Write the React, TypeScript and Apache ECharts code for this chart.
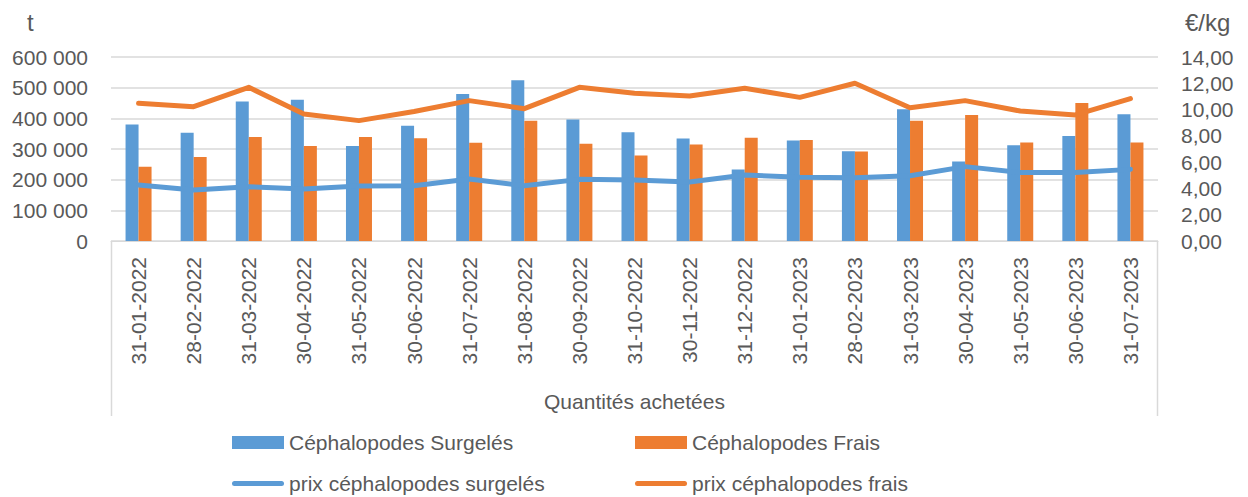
import React, { useEffect, useRef } from "react";
import * as echarts from "echarts";

const categories = [
  "31-01-2022", "28-02-2022", "31-03-2022", "30-04-2022", "31-05-2022", "30-06-2022",
  "31-07-2022", "31-08-2022", "30-09-2022", "31-10-2022", "30-11-2022", "31-12-2022",
  "31-01-2023", "28-02-2023", "31-03-2023", "30-04-2023", "31-05-2023", "30-06-2023",
  "31-07-2023",
];
const surgeles = [380000, 353000, 455000, 461000, 310000, 376000, 479000, 524000, 396000, 355000, 334000, 233000, 328000, 293000, 430000, 259000, 312000, 342000, 413000];
const frais = [242000, 274000, 339000, 310000, 339000, 335000, 320000, 392000, 317000, 279000, 315000, 337000, 329000, 292000, 392000, 411000, 321000, 450000, 321000];
const prixSurgeles = [4.26, 3.88, 4.13, 3.96, 4.19, 4.21, 4.72, 4.21, 4.69, 4.64, 4.49, 5.02, 4.85, 4.82, 4.97, 5.66, 5.22, 5.22, 5.45];
const prixFrais = [10.48, 10.22, 11.69, 9.66, 9.16, 9.85, 10.68, 10.07, 11.69, 11.24, 11.03, 11.62, 10.93, 12.0, 10.14, 10.68, 9.89, 9.59, 10.83];

const BLUE = "#5B9BD5";
const ORANGE = "#ED7D31";
const TEXT = "#595959";
const GRID = "#D9D9D9";
const FONT = "Liberation Sans";
const LINE_ICON = "path://M0,0 M52,13 M2.5,4 L49.5,4 A2.5,2.5 0 0 1 49.5,9 L2.5,9 A2.5,2.5 0 0 1 2.5,4 Z";

export default function App() {
  const ref = useRef<HTMLDivElement>(null);
  useEffect(() => {
    if (!ref.current) return;
    const chart = echarts.init(ref.current, null, { renderer: "svg" });
    const left = 111, right = 1158, top = 57, bottom = 241;
    const legendBase = {
      orient: "vertical",
      top: 432,
      padding: 0,
      itemGap: 20,
      itemWidth: 52,
      itemHeight: 13,
      textStyle: { color: TEXT, fontSize: 21, fontFamily: FONT },
    };
    chart.setOption({
      animation: false,
      backgroundColor: "#fff",
      textStyle: { fontFamily: FONT },
      grid: { left, right: 1248 - right, top, bottom: 497 - bottom, containLabel: false },
      xAxis: {
        type: "category",
        data: categories,
        name: "Quantités achetées",
        nameLocation: "middle",
        nameGap: 160,
        nameTextStyle: { color: TEXT, fontSize: 21, fontFamily: FONT, verticalAlign: "middle" },
        axisLine: { lineStyle: { color: GRID, width: 1 } },
        axisTick: { show: false },
        axisLabel: { rotate: 90, color: TEXT, fontSize: 21, fontFamily: FONT, margin: 16, interval: 0 },
      },
      yAxis: [
        {
          type: "value",
          min: 0,
          max: 600000,
          interval: 100000,
          axisLine: { show: false },
          axisTick: { show: false },
          splitLine: { lineStyle: { color: GRID, width: 1.5 } },
          axisLabel: {
            color: TEXT,
            fontSize: 21,
            fontFamily: FONT,
            margin: 23,
            formatter: (v: number) => (v === 0 ? "0" : String(v).replace(/\B(?=(\d{3})+(?!\d))/g, " ")),
          },
        },
        {
          type: "value",
          min: 0,
          max: 14,
          interval: 2,
          axisLine: { show: false },
          axisTick: { show: false },
          splitLine: { show: false },
          axisLabel: {
            color: TEXT,
            fontSize: 21,
            fontFamily: FONT,
            margin: 23,
            formatter: (v: number) => v.toFixed(2).replace(".", ","),
          },
        },
      ],
      legend: [
        {
          ...legendBase,
          left: 232,
          data: [
            { name: "Céphalopodes Surgelés", icon: "rect" },
            { name: "prix céphalopodes surgelés", icon: LINE_ICON },
          ],
        },
        {
          ...legendBase,
          left: 635,
          data: [
            { name: "Céphalopodes Frais", icon: "rect" },
            { name: "prix céphalopodes frais", icon: LINE_ICON },
          ],
        },
      ],
      graphic: [
        { type: "text", left: 27, top: 10, style: { text: "t", fill: TEXT, fontSize: 24, fontFamily: FONT } },
        { type: "text", left: 1185, top: 10, style: { text: "€/kg", fill: TEXT, fontSize: 24, fontFamily: FONT } },
        { type: "line", shape: { x1: left + 0.5, y1: bottom, x2: left + 0.5, y2: 416 }, style: { stroke: GRID, lineWidth: 1.5 } },
        { type: "line", shape: { x1: right - 0.5, y1: bottom, x2: right - 0.5, y2: 416 }, style: { stroke: GRID, lineWidth: 1.5 } },
      ],
      series: [
        {
          name: "Céphalopodes Surgelés",
          type: "bar",
          data: surgeles,
          barWidth: 13,
          barGap: "0%",
          itemStyle: { color: BLUE },
        },
        {
          name: "Céphalopodes Frais",
          type: "bar",
          data: frais,
          barWidth: 13,
          barGap: "0%",
          itemStyle: { color: ORANGE },
        },
        {
          name: "prix céphalopodes surgelés",
          type: "line",
          yAxisIndex: 1,
          data: prixSurgeles,
          symbol: "none",
          lineStyle: { color: BLUE, width: 5, cap: "round", join: "round" },
          itemStyle: { color: BLUE },
        },
        {
          name: "prix céphalopodes frais",
          type: "line",
          yAxisIndex: 1,
          data: prixFrais,
          symbol: "none",
          lineStyle: { color: ORANGE, width: 5, cap: "round", join: "round" },
          itemStyle: { color: ORANGE },
        },
      ],
    });
    return () => chart.dispose();
  }, []);
  return <div ref={ref} style={{ position: "fixed", left: 0, top: 0, width: 1248, height: 497 }} />;
}
